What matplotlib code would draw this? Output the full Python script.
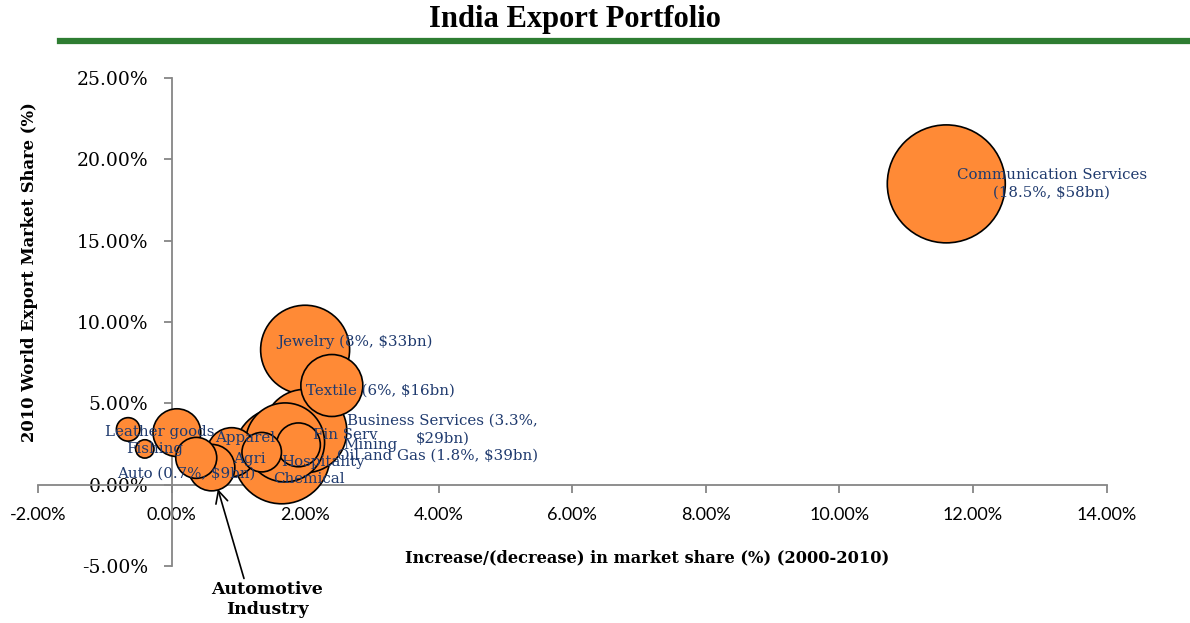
import matplotlib
matplotlib.use("Agg")
import matplotlib.pyplot as plt
from matplotlib.lines import Line2D

# --- data: (2000-2010 change in share %, 2010 world share %, export size $bn) ---
sectors = ['Communication Services', 'Jewelry', 'Textile', 'Business Services',
           'Oil and Gas', 'Hospitality', 'Fin Serv', 'Agri', 'Apparel', 'Mining',
           'Chemical', 'Auto', 'Leather goods', 'Fishing']
share_change = [11.6, 2.0, 2.4, 2.0, 1.65, 1.7, 1.9, 1.35, 0.9, 0.08, 0.37, 0.6, -0.65, -0.4]
world_share = [18.5, 8.3, 6.1, 3.3, 1.8, 2.6, 2.45, 2.0, 2.0, 3.2, 1.65, 1.05, 3.4, 2.2]
export_bn = [58, 33, 16, 29, 39, 26, 8, 6.5, 10, 9.5, 7, 9, 2.3, 1.4]
labels = ['Communication Services\n(18.5%, $58bn)', 'Jewelry (8%, $33bn)',
          'Textile (6%, $16bn)', 'Business Services (3.3%,\n$29bn)',
          'Oil and Gas (1.8%, $39bn)', 'Hospitality', 'Fin Serv', 'Agri', 'Apparel',
          'Mining', 'Chemical', 'Auto (0.7%, $9bn)', 'Leather goods', 'Fishing']
xticks = [-2, 0, 2, 4, 6, 8, 10, 12, 14]
yticks = [-5, 0, 5, 10, 15, 20, 25]

# label offsets in points from bubble centre (layout only)
label_offsets = [(76, 0), (36, 6), (35, -4), (99, 1), (112, 0), (27, -14), (34, 7),
                 (-9, -5), (10, 10), (139, -9), (81, -15), (-18, -4), (23, -2), (7, 0)]

ORANGE = '#FF8A36'
NAVY = '#1F3A6E'
GREEN = '#2E7D32'
SERIF = 'DejaVu Serif'

fig = plt.figure(figsize=(11.9, 6.23), dpi=100)
ax = fig.add_axes([0.0319, 0.0915, 0.898, 0.783])

# biggest bubbles at the back
order = sorted(range(len(sectors)), key=lambda i: -export_bn[i])
k = 124.4  # points^2 per $bn
ax.scatter([share_change[i] for i in order], [world_share[i] for i in order],
           s=[export_bn[i] * k for i in order], c=ORANGE, edgecolors='black',
           linewidths=1.2, zorder=3, clip_on=False)

for i, lbl in enumerate(labels):
    ax.annotate(lbl, (share_change[i], world_share[i]), xytext=label_offsets[i],
                textcoords='offset points', ha='center', va='center',
                multialignment='center', fontsize=10.8, family=SERIF,
                color=NAVY, zorder=5, linespacing=1.3)

auto = sectors.index('Auto')
ax.annotate('Automotive\nIndustry', (share_change[auto], world_share[auto]),
            xytext=(40, -95), textcoords='offset points', ha='center', va='center',
            fontsize=12.5, fontweight='bold', family=SERIF, linespacing=1.2,
            arrowprops=dict(arrowstyle='->,head_length=0.7,head_width=0.35',
                            color='black', lw=1.2, shrinkA=0, shrinkB=16,
                            relpos=(0.3, 1.0)),
            annotation_clip=False)

ax.set_xlim(-2, 14)
ax.set_ylim(-5, 25)
for s in ['top', 'right']:
    ax.spines[s].set_visible(False)
ax.spines['left'].set_position(('data', 0))
ax.spines['bottom'].set_position(('data', 0))
for s in ['left', 'bottom']:
    ax.spines[s].set_color('#868686')
    ax.spines[s].set_linewidth(1.3)

ax.set_xticks(xticks, [f'{t:.2f}%' for t in xticks], fontfamily='Lato', fontsize=13)
ax.set_yticks(yticks, [f'{t:.2f}%' for t in yticks], fontfamily=SERIF, fontsize=13.5)
ax.tick_params(axis='x', direction='out', length=6, width=1.3, color='#868686', pad=10)
ax.tick_params(axis='y', direction='out', length=6, width=1.3, color='#868686', pad=11)

fig.text(647 / 1190, 1 - 558 / 623, 'Increase/(decrease) in market share (%) (2000-2010)',
         ha='center', va='center', fontsize=11.7, fontweight='bold', family=SERIF)
fig.text(30 / 1190, 1 - 272 / 623, '2010 World Export Market Share (%)', rotation=90,
         ha='center', va='center', fontsize=11.8, fontweight='bold', family=SERIF)

fig.text(575 / 1190, 1 - 20 / 623, 'India Export Portfolio', ha='center', va='center',
         fontsize=22, fontweight='bold', family='Liberation Serif')
fig.add_artist(Line2D([60 / 1190, 1.0], [1 - 41 / 623] * 2, lw=4.5, color=GREEN))

fig.savefig('out.png', dpi=100)
